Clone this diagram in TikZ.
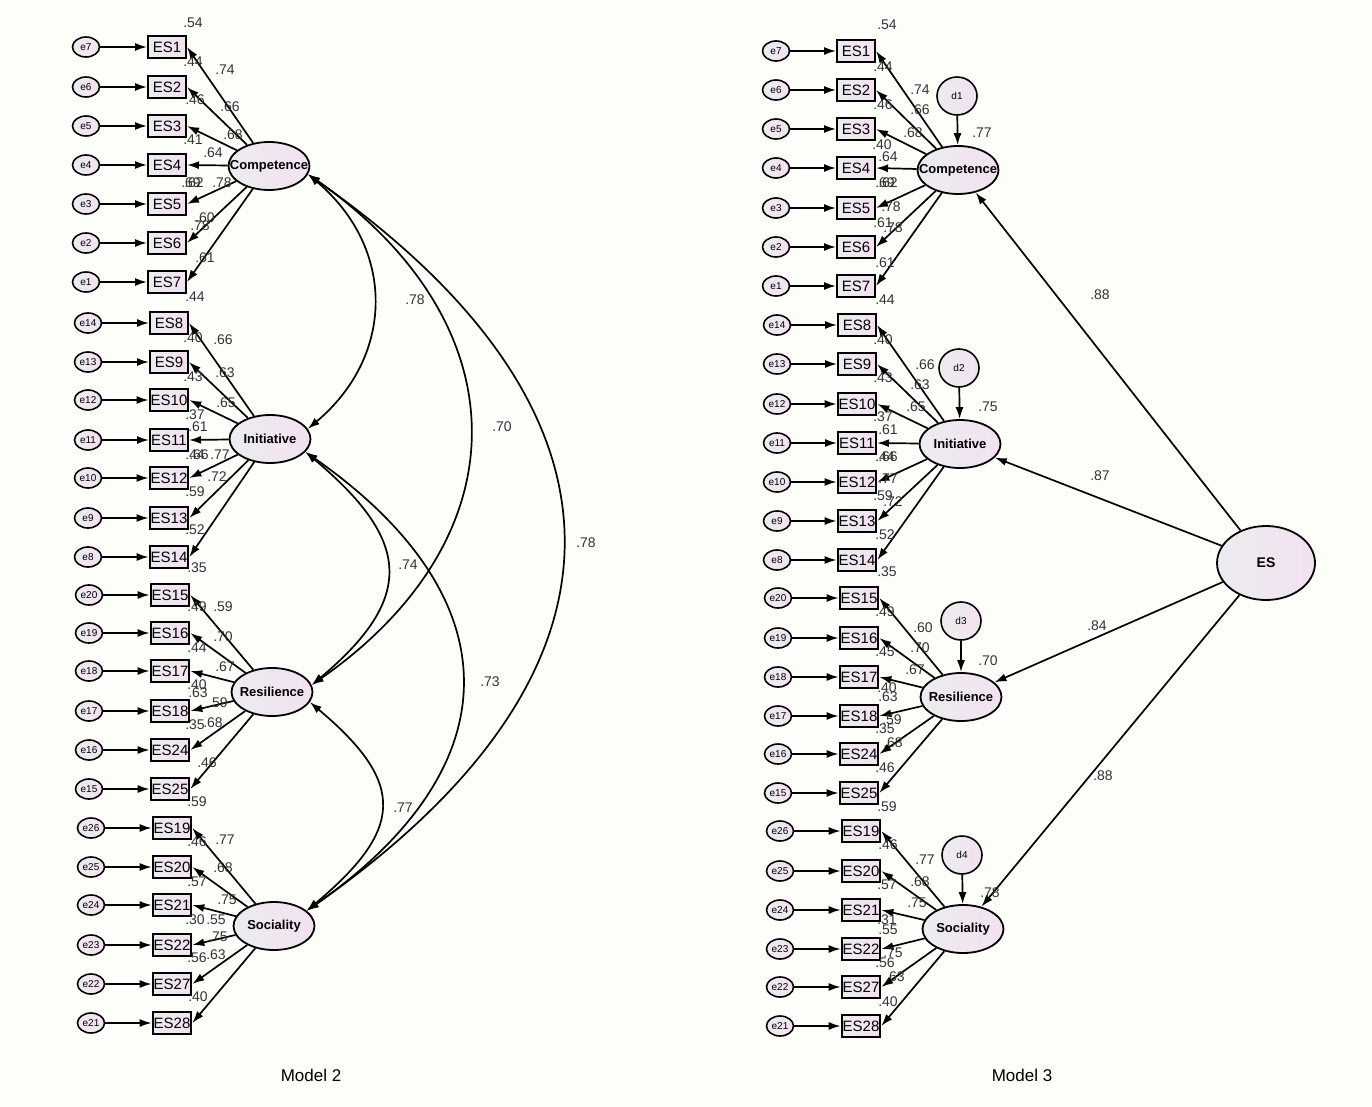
\documentclass[tikz,border=0pt]{standalone}
\usepackage{fontspec}
\setmainfont{Liberation Sans}
\usepackage{xcolor}
\usetikzlibrary{arrows.meta,shapes.geometric}
\definecolor{paper}{RGB}{253,253,249}
\definecolor{shadegrey}{RGB}{236,236,239}
\definecolor{shadepink}{RGB}{243,225,240}

\begin{document}
\begin{tikzpicture}[
  x=1pt, y=-1pt,
  shaded/.style={left color=shadegrey, right color=shadepink},
  obs/.style={shaded, draw=black, line width=2pt, minimum width=38pt, minimum height=22pt, inner sep=1pt, font=\fontsize{15}{15}\selectfont},
  err/.style={shaded, ellipse, draw=black, line width=1.6pt, minimum width=27pt, minimum height=20pt, inner sep=0pt, font=\fontsize{10}{10}\selectfont},
  dist/.style={err, minimum width=40pt, minimum height=38pt},
  latent/.style={shaded, ellipse, draw=black, line width=1.8pt, minimum width=81pt, minimum height=48pt, inner sep=0pt, font=\bfseries\fontsize{13}{13}\selectfont},
  val/.style={inner sep=0pt, text=black!80, font=\fontsize{14}{14}\selectfont},
  title/.style={inner sep=0pt, font=\fontsize{17}{17}\selectfont},
  arrow/.style={-{Latex[length=12pt, width=8pt]}, draw=black, line width=1.7pt},
  cov/.style={{Latex[length=12pt, width=8pt]}-{Latex[length=12pt, width=8pt]}, draw=black, line width=1.7pt}
]
\fill[paper] (0,0) rectangle (1372,1107);
\useasboundingbox (0,0) rectangle (1372,1107);

% Model 2
\node[latent] (comp2) at (269,166) {\makebox[0pt]{Competence}};
\node[latent] (init2) at (270,439) {\makebox[0pt]{Initiative}};
\node[latent] (res2) at (272,692) {\makebox[0pt]{Resilience}};
\node[latent] (soc2) at (274,926) {\makebox[0pt]{Sociality}};

\foreach \n/\e/\y in {1/7/47,2/6/87,3/5/126,4/4/165,5/3/204,6/2/243,7/1/282}{
  \node[obs] (ls\n) at (167,\y) {ES\n};
  \node[err] (le\e) at (86,\y) {e\e};
  \draw[arrow] (le\e) -- (ls\n);
  \draw[arrow] (comp2) -- (ls\n.east);
}
\foreach \n/\e/\y in {8/14/323,9/13/362,10/12/400,11/11/440,12/10/478,13/9/518,14/8/557}{
  \node[obs] (ls\n) at (169,\y) {ES\n};
  \node[err] (le\e) at (88,\y) {e\e};
  \draw[arrow] (le\e) -- (ls\n);
  \draw[arrow] (init2) -- (ls\n.east);
}
\foreach \n/\e/\y in {15/20/595,16/19/633,17/18/671,18/17/711,24/16/750,25/15/789}{
  \node[obs] (ls\n) at (170,\y) {ES\n};
  \node[err] (le\e) at (89,\y) {e\e};
  \draw[arrow] (le\e) -- (ls\n);
  \draw[arrow] (res2) -- (ls\n.east);
}
\foreach \n/\e/\y in {19/26/828,20/25/867,21/24/905,22/23/945,27/22/984,28/21/1023}{
  \node[obs] (ls\n) at (172,\y) {ES\n};
  \node[err] (le\e) at (91,\y) {e\e};
  \draw[arrow] (le\e) -- (ls\n);
  \draw[arrow] (soc2) -- (ls\n.east);
}

\draw[cov] (comp2.-12) to[out=-40, in=40, looseness=1.15] (init2.15);
\draw[cov] (comp2.-12) to[out=-35, in=35, looseness=1.3] (res2.10);
\draw[cov] (comp2.-12) to[out=-35, in=35, looseness=1.44] (soc2.25);
\draw[cov] (init2.-20) to[out=-40, in=40, looseness=1.5] (res2.10);
\draw[cov] (init2.-20) to[out=-35, in=35, looseness=1.41] (soc2.25);
\draw[cov] (res2.-15) to[out=-40, in=40, looseness=1.55] (soc2.25);

\foreach \x/\y/\t [count=\k] in {
  193/23/.54, 193/62/.44, 225/70/.74, 195/100/.46, 230/107/.66, 233/135/.68,
  193/140/.41, 213/153/.64, 191/183/.69, 194/183/.62, 222/183/.78, 205/218/.60,
  200/226/.78, 205/258/.61, 195/297/.44,
  193/338/.40, 223/340/.66, 193/377/.43, 225/373/.63, 226/403/.65, 195/415/.37,
  198/427/.61, 195/455/.44, 199/455/.66, 220/455/.77, 217/477/.72, 195/492/.59,
  195/530/.52, 197/568/.35,
  197/607/.49, 223/607/.59, 223/637/.70, 197/648/.44, 225/667/.67, 197/685/.40,
  198/693/.63, 218/703/.59, 195/725/.35, 213/723/.68, 207/763/.46, 197/802/.59,
  197/842/.46, 225/840/.77, 223/868/.68, 197/882/.57, 227/900/.75, 195/920/.30,
  216/920/.55, 218/937/.75, 197/958/.56, 216/955/.63, 198/997/.40,
  415/300/.78, 502/427/.70, 586/543/.78, 408/565/.74, 490/682/.73, 403/808/.77}{
  \node[val] (lv\k) at (\x,\y) {\t};
}
\node[title] (model2) at (311,1075) {Model 2};

% Model 3
\node[latent] (comp3) at (958,170) {\makebox[0pt]{Competence}};
\node[latent] (init3) at (960,444) {\makebox[0pt]{Initiative}};
\node[latent] (res3) at (961,697) {\makebox[0pt]{Resilience}};
\node[latent] (soc3) at (963,929) {\makebox[0pt]{Sociality}};
\node[latent, minimum width=98pt, minimum height=74pt, font=\bfseries\fontsize{14}{14}\selectfont] (es) at (1266,563) {ES};
\node[dist] (d1) at (957,96) {d1};
\node[dist] (d2) at (959,368) {d2};
\node[dist] (d3) at (961,621) {d3};
\node[dist] (d4) at (962,855) {d4};

\foreach \n/\e/\y in {1/7/51,2/6/90,3/5/129,4/4/168,5/3/208,6/2/247,7/1/286}{
  \node[obs] (rs\n) at (856,\y) {ES\n};
  \node[err] (re\e) at (776,\y) {e\e};
  \draw[arrow] (re\e) -- (rs\n);
  \draw[arrow] (comp3) -- (rs\n.east);
}
\foreach \n/\e/\y in {8/14/325,9/13/364,10/12/404,11/11/443,12/10/482,13/9/521,14/8/560}{
  \node[obs] (rs\n) at (857,\y) {ES\n};
  \node[err] (re\e) at (777,\y) {e\e};
  \draw[arrow] (re\e) -- (rs\n);
  \draw[arrow] (init3) -- (rs\n.east);
}
\foreach \n/\e/\y in {15/20/598,16/19/638,17/18/677,18/17/716,24/16/754,25/15/793}{
  \node[obs] (rs\n) at (859,\y) {ES\n};
  \node[err] (re\e) at (778,\y) {e\e};
  \draw[arrow] (re\e) -- (rs\n);
  \draw[arrow] (res3) -- (rs\n.east);
}
\foreach \n/\e/\y in {19/26/831,20/25/871,21/24/910,22/23/949,27/22/987,28/21/1026}{
  \node[obs] (rs\n) at (861,\y) {ES\n};
  \node[err] (re\e) at (780,\y) {e\e};
  \draw[arrow] (re\e) -- (rs\n);
  \draw[arrow] (soc3) -- (rs\n.east);
}

\draw[arrow] (d1) -- (comp3);
\draw[arrow] (d2) -- (init3);
\draw[arrow] (d3) -- (res3);
\draw[arrow] (d4) -- (soc3);
\draw[arrow] (es) -- (comp3);
\draw[arrow] (es) -- (init3);
\draw[arrow] (es) -- (res3);
\draw[arrow] (es) -- (soc3);

\foreach \x/\y/\t [count=\k] in {
  887/25/.54, 883/67/.44, 920/90/.74, 883/105/.46, 920/110/.66, 913/133/.68,
  982/133/.77, 882/145/.40, 888/157/.64, 885/183/.69, 888/183/.62, 891/207/.78,
  883/223/.61, 893/228/.78, 885/263/.61, 885/300/.44,
  883/340/.40, 925/365/.66, 883/378/.43, 920/385/.63, 988/407/.75, 916/407/.65,
  883/417/.37, 888/430/.61, 885/457/.44, 888/457/.66, 888/479/.77, 883/496/.59,
  893/502/.72, 885/535/.52, 887/572/.35,
  885/612/.49, 923/628/.60, 920/648/.70, 885/652/.45, 988/661/.70, 915/670/.67,
  887/688/.40, 888/697/.63, 892/720/.59, 885/729/.35, 893/743/.68, 885/768/.46,
  887/807/.59,
  888/845/.46, 925/860/.77, 920/882/.68, 887/885/.57, 990/893/.78, 917/903/.75,
  887/920/.31, 888/930/.55, 893/953/.75, 885/963/.56, 895/977/.63, 888/1002/.40,
  1100/295/.88, 1100/476/.87, 1097/626/.84, 1103/776/.88}{
  \node[val] (rv\k) at (\x,\y) {\t};
}
\node[title] (model3) at (1022,1075) {Model 3};
\end{tikzpicture}
\end{document}
